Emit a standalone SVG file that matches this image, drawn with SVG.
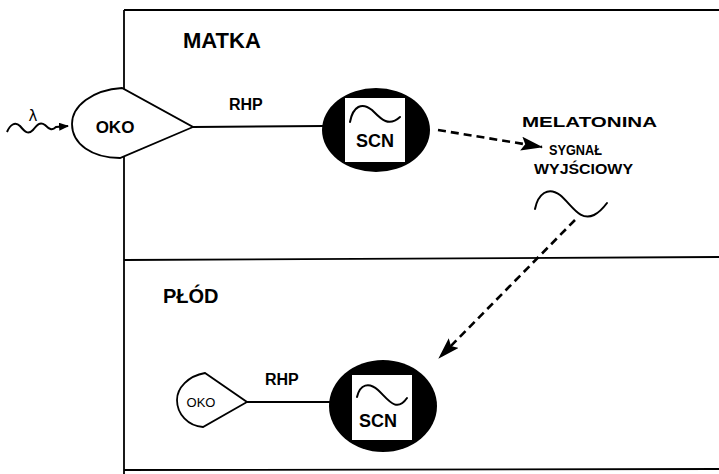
<svg xmlns="http://www.w3.org/2000/svg" width="719" height="474" viewBox="0 0 719 474">
  <style>
    .frame { stroke: #000; stroke-width: 1.8; fill: none; }
    .link { stroke: #000; stroke-width: 2; fill: none; }
    .dash { stroke: #000; stroke-width: 2.6; fill: none; stroke-dasharray: 8 5; }
    .eye { fill: #fff; stroke: #000; stroke-width: 1.8; }
    .nucleus { fill: #000; }
    .clock { fill: #fff; }
    .wave { stroke: #000; stroke-width: 2; fill: none; stroke-linecap: round; }
    text { font-family: "Liberation Sans", Arial, sans-serif; font-weight: bold; fill: #000; }
    text.thin { font-weight: normal; }
  </style>
  <defs>
    <marker id="head" markerWidth="10" markerHeight="8" refX="9" refY="4" orient="auto" markerUnits="userSpaceOnUse">
      <path d="M0,0 L10,4 L0,8 Z" fill="#000"/>
    </marker>
    <marker id="headL" markerWidth="22" markerHeight="14" refX="21" refY="7" orient="auto" markerUnits="userSpaceOnUse">
      <path d="M0,0 L22,7 L0,14 L4,7 Z" fill="#000"/>
    </marker>
  </defs>

  <!-- frame: mother (top) and fetus (bottom) compartments -->
  <g id="frame">
    <line class="frame" x1="124" y1="10" x2="719" y2="10"/>
    <line class="frame" x1="124" y1="10" x2="124" y2="474"/>
    <line class="frame" x1="124" y1="260" x2="719" y2="257"/>
    <line class="frame" x1="124" y1="470" x2="719" y2="469"/>
    <text x="183" y="48" font-size="22">MATKA</text>
    <text x="163" y="303" font-size="20">PŁÓD</text>
  </g>

  <!-- connectors -->
  <g id="connectors">
    <path class="link" d="M7,132 C10,125 15,121 20,126 C25,132 28,135 33,130 C37,125 40,121 45,125 C49,129 52,131 56,127 L68,126" marker-end="url(#head)"/>
    <line class="link" x1="193" y1="127" x2="325" y2="126"/>
    <line class="dash" x1="438" y1="130" x2="542" y2="147" marker-end="url(#headL)"/>
    <line class="dash" x1="575" y1="220" x2="439" y2="358" marker-end="url(#headL)"/>
    <line class="link" x1="247" y1="402" x2="333" y2="402"/>
  </g>

  <!-- light input -->
  <g id="light">
    <text class="thin" x="33" y="121" font-size="15" text-anchor="middle" style="font-family: 'DejaVu Sans', sans-serif;">λ</text>
  </g>

  <!-- mother's eye -->
  <g id="oko-matka">
    <path class="eye" d="M122,88 C92,90 72,106 72,124 C72,144 92,158 120,158 L193,127 Z"/>
    <text x="115" y="133" font-size="17" text-anchor="middle">OKO</text>
    <text x="229" y="110" font-size="16">RHP</text>
  </g>

  <!-- mother's SCN -->
  <g id="scn-matka">
    <ellipse class="nucleus" cx="376" cy="130" rx="54" ry="42"/>
    <rect class="clock" x="345" y="98" width="60" height="64"/>
    <path class="wave" d="M350,122 C353,106 362,102 372,110 C380,118 388,128 400,117"/>
    <text x="375" y="147" font-size="18" text-anchor="middle">SCN</text>
  </g>

  <!-- output signal -->
  <g id="melatonina">
    <text x="522" y="127" font-size="15" textLength="135" lengthAdjust="spacingAndGlyphs">MELATONINA</text>
    <text x="549" y="155" font-size="15.5" textLength="53" lengthAdjust="spacingAndGlyphs">SYGNAŁ</text>
    <text x="534" y="174" font-size="14.5" textLength="99" lengthAdjust="spacingAndGlyphs">WYJŚCIOWY</text>
    <path class="wave" d="M535,209 C538,194 548,186 560,195 C572,205 580,222 594,215 C600,212 604,207 607,203"/>
  </g>

  <!-- fetal eye -->
  <g id="oko-plod">
    <path class="eye" d="M205,373 C188,376 177,388 177,400 C177,414 188,426 203,427 L247,402 Z"/>
    <text class="thin" x="201" y="407" font-size="13" text-anchor="middle">OKO</text>
    <text x="265" y="385" font-size="16">RHP</text>
  </g>

  <!-- fetal SCN -->
  <g id="scn-plod">
    <ellipse class="nucleus" cx="383" cy="406" rx="54" ry="46"/>
    <rect class="clock" x="352" y="375" width="60" height="65"/>
    <path class="wave" d="M357,397 C360,384 369,382 378,390 C387,398 396,414 407,398"/>
    <text x="378" y="427" font-size="18" text-anchor="middle">SCN</text>
  </g>
</svg>
